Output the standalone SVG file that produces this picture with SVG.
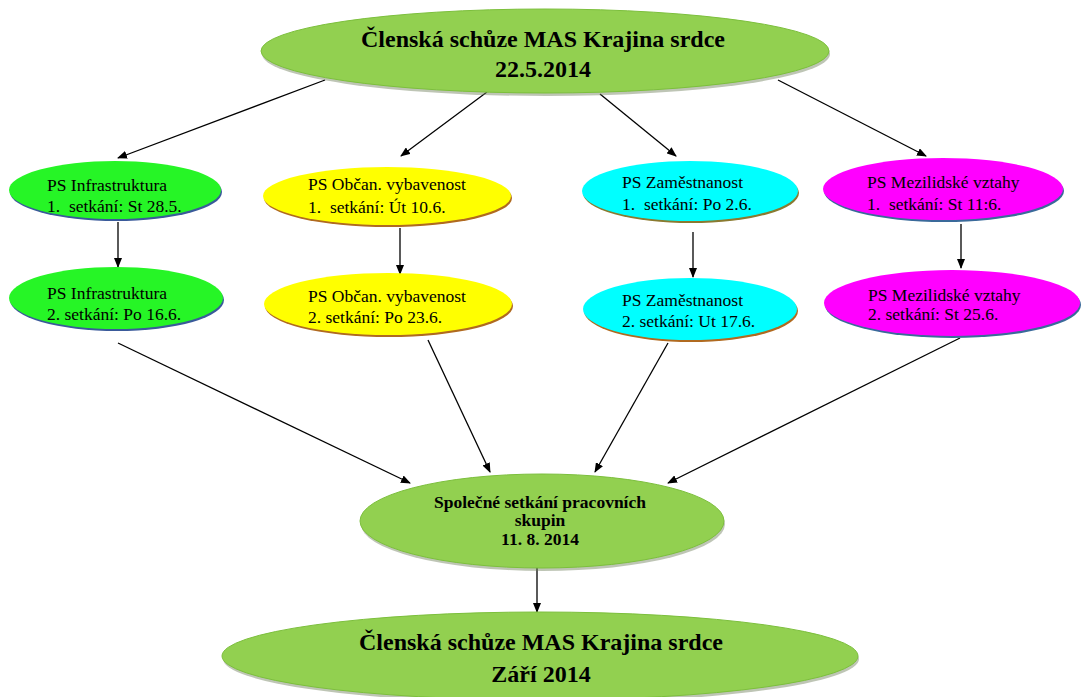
<svg xmlns="http://www.w3.org/2000/svg" width="1081" height="697" viewBox="0 0 1081 697">
<defs>
<marker id="arr" markerWidth="10" markerHeight="8" refX="9" refY="4" orient="auto" markerUnits="userSpaceOnUse">
<path d="M0,0 L10,4 L0,8 z" fill="#000"/>
</marker>
</defs>
<style>
.big{font-family:"Liberation Serif","Times New Roman",serif;font-weight:bold;font-size:24px;fill:#000;text-anchor:middle}
.mid{font-family:"Liberation Serif","Times New Roman",serif;font-weight:bold;font-size:17.5px;fill:#000;text-anchor:middle}
.sm{font-family:"Liberation Serif","Times New Roman",serif;font-size:17.5px;fill:#000;white-space:pre}
.lg{fill:#92d050;stroke:#7cbf3c;stroke-width:1}
.sh{fill:#6f7f5a;opacity:0.45}
.gr{fill:#26f526}
.ye{fill:#ffff00}
.cy{fill:#00ffff}
.ma{fill:#ff00ff}
.conn line{stroke:#000;stroke-width:1.3;marker-end:url(#arr)}
</style>
<rect width="1081" height="697" fill="#fff"/>
<g class="conn">
<line x1="325" y1="80" x2="118" y2="158"/>
<line x1="487" y1="92" x2="401" y2="156"/>
<line x1="600" y1="94" x2="676" y2="156"/>
<line x1="778" y1="80" x2="926" y2="156"/>
<line x1="118" y1="222" x2="118" y2="267"/>
<line x1="400" y1="228" x2="400" y2="274"/>
<line x1="693" y1="232" x2="693" y2="277"/>
<line x1="961" y1="224" x2="961" y2="268"/>
<line x1="118" y1="343" x2="410" y2="483"/>
<line x1="428" y1="340" x2="490" y2="472"/>
<line x1="668" y1="343" x2="595" y2="472"/>
<line x1="960" y1="338" x2="668" y2="483"/>
<line x1="537" y1="567" x2="537" y2="612"/>
</g>
<g id="top">
<ellipse class="sh" cx="546" cy="54" rx="284" ry="42"/>
<ellipse class="lg" cx="545" cy="51" rx="284" ry="42"/>
<text class="big" x="543" y="47">Členská schůze MAS Krajina srdce</text>
<text class="big" x="543" y="77">22.5.2014</text>
</g>
<g id="infra1">
<ellipse cx="116" cy="192" rx="106" ry="29" fill="#3a5a9a"/>
<ellipse class="gr" cx="115" cy="190" rx="106" ry="29"/>
<text class="sm" x="47" y="191">PS Infrastruktura</text>
<text class="sm" x="47" y="212">1.  setkání: St 28.5.</text>
</g>
<g id="obcan1">
<ellipse cx="388" cy="198" rx="124" ry="29" fill="#b06a20"/>
<ellipse class="ye" cx="387" cy="196" rx="124" ry="29"/>
<text class="sm" x="308" y="190">PS Občan. vybavenost</text>
<text class="sm" x="308" y="213">1.  setkání: Út 10.6.</text>
</g>
<g id="zam1">
<ellipse cx="691" cy="193" rx="108" ry="30" fill="#8a7a30"/>
<ellipse class="cy" cx="690" cy="191" rx="108" ry="30"/>
<text class="sm" x="622" y="188">PS Zaměstnanost</text>
<text class="sm" x="622" y="210">1.  setkání: Po 2.6.</text>
</g>
<g id="mezi1">
<ellipse cx="944" cy="191" rx="120" ry="31" fill="#3a6a9a"/>
<ellipse class="ma" cx="943" cy="189" rx="120" ry="31"/>
<text class="sm" x="867" y="188">PS Mezilidské vztahy</text>
<text class="sm" x="867" y="210">1.  setkání: St 11:6.</text>
</g>
<g id="infra2">
<ellipse cx="117" cy="300" rx="107" ry="31" fill="#3a5a9a"/>
<ellipse class="gr" cx="116" cy="298" rx="107" ry="31"/>
<text class="sm" x="47" y="299">PS Infrastruktura</text>
<text class="sm" x="47" y="320">2. setkání: Po 16.6.</text>
</g>
<g id="obcan2">
<ellipse cx="389" cy="306" rx="124" ry="31" fill="#b06a20"/>
<ellipse class="ye" cx="388" cy="304" rx="124" ry="31"/>
<text class="sm" x="308" y="302">PS Občan. vybavenost</text>
<text class="sm" x="308" y="323">2. setkání: Po 23.6.</text>
</g>
<g id="zam2">
<ellipse cx="691" cy="311" rx="107" ry="31" fill="#b06a20"/>
<ellipse class="cy" cx="690" cy="309" rx="107" ry="31"/>
<text class="sm" x="622" y="306">PS Zaměstnanost</text>
<text class="sm" x="622" y="327">2. setkání: Ut 17.6.</text>
</g>
<g id="mezi2">
<ellipse cx="953" cy="305" rx="128" ry="33" fill="#3a6a9a"/>
<ellipse class="ma" cx="952" cy="303" rx="128" ry="33"/>
<text class="sm" x="868" y="301">PS Mezilidské vztahy</text>
<text class="sm" x="868" y="320">2. setkání: St 25.6.</text>
</g>
<g id="spolecne">
<ellipse class="sh" cx="543" cy="524" rx="182" ry="47"/>
<ellipse class="lg" cx="542" cy="521" rx="182" ry="47"/>
<text class="mid" x="540" y="508">Společné setkání pracovních</text>
<text class="mid" x="540" y="526">skupin</text>
<text class="mid" x="540" y="545">11. 8. 2014</text>
</g>
<g id="bottom">
<ellipse class="sh" cx="541" cy="659" rx="318" ry="44"/>
<ellipse class="lg" cx="540" cy="656" rx="318" ry="44"/>
<text class="big" x="541" y="650">Členská schůze MAS Krajina srdce</text>
<text class="big" x="541" y="682">Září 2014</text>
</g>
</svg>
